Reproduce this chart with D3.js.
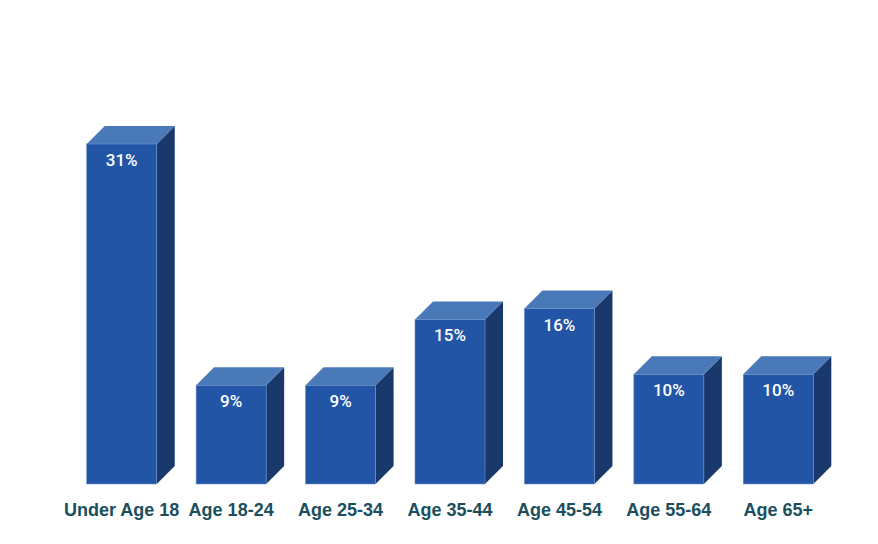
<!DOCTYPE html>
<html>
<head>
<meta charset="utf-8">
<script src="https://cdn.jsdelivr.net/npm/d3@7"></script>
<style>
  body { margin: 0; background: #fff; }
</style>
</head>
<body>
<div id="chart"></div>
<script>
const categories = ["Under Age 18", "Age 18-24", "Age 25-34", "Age 35-44", "Age 45-54", "Age 55-64", "Age 65+"];
const values = [31, 9, 9, 15, 16, 10, 10];
const valueLabels = ["31%", "9%", "9%", "15%", "16%", "10%", "10%"];

const width = 878;
const height = 544;
const margin = { top: 144, left: 67, bottom: 60, right: 45 };
const depth = 18;

const svg = d3.select("#chart").append("svg")
  .attr("width", width)
  .attr("height", height);

const x = d3.scaleBand()
  .domain(categories)
  .range([margin.left, width - margin.right])
  .paddingInner(0.36)
  .paddingOuter(0.18);

const y = d3.scaleLinear()
  .domain([0, 31])
  .range([height - margin.bottom, margin.top]);

const data = categories.map((c, i) => ({ name: c, value: values[i], label: valueLabels[i] }));

const bars = svg.append("g").selectAll("g").data(data).enter().append("g");

// side face
bars.append("path")
  .attr("fill", "#19386c")
  .attr("d", d => {
    const x1 = x(d.name) + x.bandwidth(), y0 = y(0), y1 = y(d.value);
    return `M${x1},${y1}L${x1 + depth},${y1 - depth}L${x1 + depth},${y0 - depth}L${x1},${y0}Z`;
  });

// top face
bars.append("path")
  .attr("fill", "#4a79b9")
  .attr("d", d => {
    const x0 = x(d.name), x1 = x0 + x.bandwidth(), y1 = y(d.value);
    return `M${x0},${y1}L${x0 + depth},${y1 - depth}L${x1 + depth},${y1 - depth}L${x1},${y1}Z`;
  });

// front face
bars.append("rect")
  .attr("fill", "#2255a5")
  .attr("stroke", "#6f93c8")
  .attr("stroke-width", 0.6)
  .attr("x", d => x(d.name))
  .attr("y", d => y(d.value))
  .attr("width", x.bandwidth())
  .attr("height", d => y(0) - y(d.value));

bars.append("text")
  .attr("x", d => x(d.name) + x.bandwidth() / 2)
  .attr("y", d => y(d.value) + 22)
  .attr("text-anchor", "middle")
  .attr("fill", "#fff")
  .style("font-family", "Roboto, sans-serif")
  .style("font-weight", 500)
  .style("font-size", "17px")
  .text(d => d.label);

svg.append("g").selectAll("text").data(categories).enter().append("text")
  .attr("x", d => x(d) + x.bandwidth() / 2)
  .attr("y", y(0) + 32)
  .attr("text-anchor", "middle")
  .attr("fill", "#1b4f5e")
  .style("font-family", "'Liberation Sans', Arial, sans-serif")
  .style("font-weight", "bold")
  .style("font-size", "18px")
  .text(d => d);
</script>
</body>
</html>
